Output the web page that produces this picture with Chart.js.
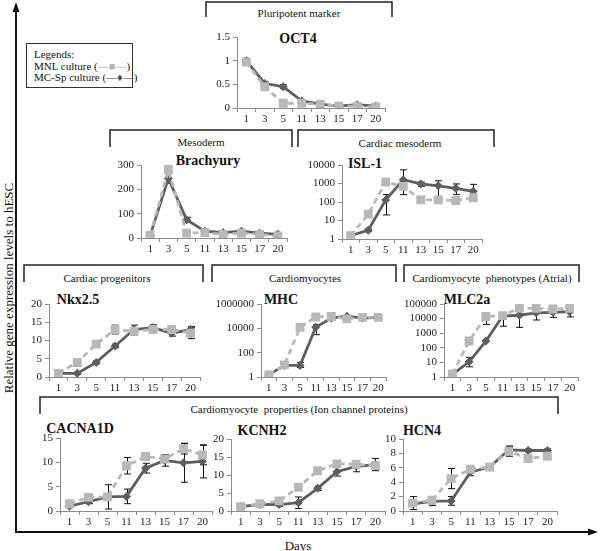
<!DOCTYPE html>
<html><head><meta charset="utf-8">
<script src="https://cdn.jsdelivr.net/npm/chart.js@4.4.1/dist/chart.umd.min.js"></script>
<style>
html,body{margin:0;padding:0;background:#fff;}
#wrap{position:relative;width:600px;height:551px;overflow:hidden;font-family:'Liberation Serif','DejaVu Serif',serif;color:#111;}
canvas.cv{position:absolute;}
.t{position:absolute;white-space:pre;transform:translate(-50%,-50%);font-size:var(--fs,11px);line-height:1;}
.title{font-weight:bold;font-size:var(--ft,14px);}
.big{font-size:var(--fb,13px);}
svg{position:absolute;left:0;top:0;}
#legend{position:absolute;left:26px;top:43px;width:107px;height:45px;border:1px solid #333;font-size:var(--fs,11px);line-height:11.5px;padding:5px 0 0 7px;box-sizing:border-box;white-space:nowrap;}
.g{color:#b5b5b5;} .d{color:#444;}
</style></head><body><div id="wrap">
<svg width="600" height="551">
 <g fill="none" stroke="#222" stroke-width="1.5">
  <path d="M206,17 V2 H392 V17"/>
  <path d="M110,147 V130 H292 V147"/>
  <path d="M298,147 V130 H494 V147"/>
  <path d="M24,282 V265 H203 V282"/>
  <path d="M212,282 V265 H396 V282"/>
  <path d="M404,282 V265 H579 V282"/>
  <path d="M40,414 V397 H558 V414"/>
 </g>
 <g stroke="#111" stroke-width="2" fill="#111">
  <line x1="16" y1="533" x2="16" y2="10"/>
  <polygon points="16,2 12.5,12 19.5,12" stroke="none"/>
  <line x1="15" y1="532" x2="590" y2="532"/>
  <polygon points="598,532 588,528.5 588,535.5" stroke="none"/>
 </g>
</svg>
<div id="legend">Legends:<br>MNL culture (<span class="g">---■---</span>)<br>MC-Sp culture (<span class="d">—♦—</span>)</div>
<div class="t" style="left:299px;top:13px;">Pluripotent marker</div>
<div class="t" style="left:201px;top:142px;">Mesoderm</div>
<div class="t" style="left:400px;top:143px;">Cardiac mesoderm</div>
<div class="t" style="left:107px;top:278px;">Cardiac progenitors</div>
<div class="t" style="left:305px;top:278px;">Cardiomyocytes</div>
<div class="t" style="left:492px;top:278px;">Cardiomyocyte  phenotypes (Atrial)</div>
<div class="t" style="left:299px;top:409px;">Cardiomyocyte  properties (Ion channel proteins)</div>
<div class="t big" style="left:298px;top:545px;">Days</div>
<div class="t big" style="left:8px;top:288px;transform:translate(-50%,-50%) rotate(-90deg);">Relative gene expression levels to hESC</div>
<div class="t title" style="left:298px;top:39px;">OCT4</div>
<div class="t title" style="left:208px;top:161px;">Brachyury</div>
<div class="t title" style="left:365px;top:164px;">ISL-1</div>
<div class="t title" style="left:78px;top:300px;">Nkx2.5</div>
<div class="t title" style="left:281px;top:300px;">MHC</div>
<div class="t title" style="left:467px;top:300px;">MLC2a</div>
<div class="t title" style="left:80px;top:429px;">CACNA1D</div>
<div class="t title" style="left:262px;top:431px;">KCNH2</div>
<div class="t title" style="left:422px;top:431px;">HCN4</div>
</div>
<script>
const days = ['1','3','5','11','13','15','17','20'];

const oct4Ticks = [0, 0.5, 1, 1.5];
const oct4Mnl = [0.97, 0.45, 0.10, 0.10, 0.08, 0.04, 0.04, 0.02];
const oct4Mc  = [1.00, 0.52, 0.45, 0.15, 0.08, 0.04, 0.07, 0.04];
const oct4MnlErr = [0.03, 0.03, 0.02, 0.02, 0.01, 0.01, 0.01, 0.01];
const oct4McErr  = [0.05, 0.03, 0.04, 0.02, 0.01, 0.01, 0.02, 0.01];

const brachTicks = [0, 100, 200, 300];
const brachMnl = [10, 280, 20, 22, 15, 20, 15, 8];
const brachMc  = [10, 245, 75, 28, 22, 28, 20, 15];
const brachMnlErr = [2, 15, 3, 3, 2, 2, 2, 2];
const brachMcErr  = [2, 20, 10, 5, 3, 4, 3, 3];

const islTicks = [1, 10, 100, 1000, 10000];
const islMnl = [1.5, 22, 1200, 700, 130, 130, 120, 170];
const islMc  = [1.5, 3, 130, 1600, 950, 750, 550, 380];
const islMnlErr = [null, [15, 30], [900, 1500], [500, 1000], null, null, null, [130, 230]];
const islMcErr  = [null, [2.5, 3.5], [20, 250], [250, 5500], [700, 1200], [200, 1400], [250, 950], [200, 900]];

const nkxTicks = [0, 5, 10, 15, 20];
const nkxMnl = [1, 4, 9, 13, 12.5, 13, 13, 12];
const nkxMc  = [1, 1, 4, 8.5, 13, 13.5, 12, 13];
const nkxMnlErr = [0.3, 1, 0.5, 1.2, 1, 0.8, 0.8, 1.5];
const nkxMcErr  = [0.2, 0.3, 0.4, 0.5, 1.2, 0.8, 0.8, 0.8];

const mhcTicks = [1, 100, 10000, 1000000];
const mhcMnl = [1.5, 10, 12000, 85000, 95000, 60000, 80000, 80000];
const mhcMc  = [1.5, 9, 9, 12000, 70000, 100000, 70000, 80000];
const mhcMnlErr = [null, null, null, null, null, null, null, null];
const mhcMcErr  = [null, null, [6, 16], [3000, 20000], null, null, null, null];

const mlcTicks = [1, 10, 100, 1000, 10000, 100000];
const mlcMnl = [1.6, 290, 14000, 16000, 53000, 50000, 45000, 50000];
const mlcMc  = [1.5, 11, 290, 15000, 17000, 25000, 27000, 30000];
const mlcMnlErr = [null, null, [4000, 20000], null, null, null, null, null];
const mlcMcErr  = [null, [5, 22], null, [3000, 20000], [2500, 20000], [8000, 30000], [12000, 35000], [13000, 40000]];

const cacTicks = [0, 5, 10, 15];
const cacMnl = [1.5, 2.8, 2.9, 9.3, 11.2, 10.7, 12.8, 11.5];
const cacMc  = [1.0, 1.9, 2.9, 3.0, 8.8, 10.4, 9.9, 10.2];
const cacMnlErr = [0.3, 0.5, 0.5, 1.7, 0.5, 0.5, 1.1, 2.0];
const cacMcErr  = [0.3, 0.4, 2.5, 1.5, 1.0, 1.2, 4.0, 3.4];

const kcnTicks = [0, 5, 10, 15, 20];
const kcnMnl = [1.2, 2.0, 2.8, 6.6, 11.2, 13.1, 13.0, 12.6];
const kcnMc  = [1.2, 1.8, 1.8, 2.3, 6.3, 10.9, 12.4, 12.9];
const kcnMnlErr = [0.3, 0.3, 0.3, 0.3, 0.3, 0.5, 0.5, 0.5];
const kcnMcErr  = [0.3, 0.5, 0.5, 1.6, 0.6, 1.2, 1.5, 1.7];

const hcnTicks = [0, 2, 4, 6, 8, 10];
const hcnMnl = [1.1, 1.5, 4.5, 5.8, 6.1, 8.3, 7.3, 7.6];
const hcnMc  = [1.0, 1.35, 1.4, 5.4, 6.1, 8.5, 8.4, 8.4];
const hcnMnlErr = [0.9, 0.3, 1.4, 0.5, 0.2, 0.7, 0.3, 0.3];
const hcnMcErr  = [0.3, 0.6, 0.6, 0.5, 0.2, 0.5, 0.2, 0.2];

const MNL_COLOR = '#b8b8b8';
const MC_COLOR = '#5e5e5e';

// pick a Times-like serif if one is installed, else DejaVu Serif at a smaller size
function hasFont(name) {
  const cx = document.createElement('canvas').getContext('2d');
  const s = 'abcdefghiMWmw0123456789';
  cx.font = `40px monospace`; const w0 = cx.measureText(s).width;
  cx.font = `40px '${name}', monospace`; const w1 = cx.measureText(s).width;
  return Math.abs(w1 - w0) > 0.5;
}
const timesLike = ['Liberation Serif', 'Tinos', 'Times New Roman', 'Nimbus Roman', 'Nimbus Roman No9 L', 'FreeSerif'].find(hasFont);
const FAMILY = timesLike ? `'${timesLike}', 'DejaVu Serif', serif` : `'DejaVu Serif', serif`;
const SCALE = timesLike ? 1 : 0.88;
const wrap = document.getElementById('wrap');
wrap.style.fontFamily = FAMILY;
wrap.style.setProperty('--fs', (11 * SCALE) + 'px');
wrap.style.setProperty('--ft', (14 * SCALE) + 'px');
wrap.style.setProperty('--fb', (13 * SCALE) + 'px');
const FONT = {family: FAMILY, size: Math.round(11 * SCALE * 10) / 10};

const errPlugin = {
  id: 'errbars',
  beforeDatasetsDraw(chart) {
    const ctx = chart.ctx, ys = chart.scales.y;
    ctx.save();
    ctx.strokeStyle = '#111';
    ctx.lineWidth = 1;
    chart.data.datasets.forEach((ds, di) => {
      const meta = chart.getDatasetMeta(di);
      (ds.errors || []).forEach((e, i) => {
        if (!e) return;
        const v = ds.data[i];
        let lo, hi;
        if (Array.isArray(e)) { lo = e[0]; hi = e[1]; } else { lo = v - e; hi = v + e; }
        lo = Math.max(lo, ys.min); hi = Math.min(hi, ys.max);
        const x = Math.round(meta.data[i].x) + 0.5;
        const y1 = ys.getPixelForValue(lo), y2 = ys.getPixelForValue(hi);
        ctx.beginPath();
        ctx.moveTo(x, y1); ctx.lineTo(x, y2);
        ctx.moveTo(x - 3.5, y1); ctx.lineTo(x + 3.5, y1);
        ctx.moveTo(x - 3.5, y2); ctx.lineTo(x + 3.5, y2);
        ctx.stroke();
      });
    });
    ctx.restore();
  }
};

function makeChart(p) {
  const YW = 46, XH = 19, PT = 10, PR = 6;
  const left = p.ax - YW, top = p.top - PT;
  const w = p.right - p.ax + YW + PR, h = p.bottom - p.top + PT + XH;
  const c = document.createElement('canvas');
  c.className = 'cv';
  c.width = w; c.height = h;
  c.style.left = left + 'px'; c.style.top = top + 'px';
  c.style.width = w + 'px'; c.style.height = h + 'px';
  wrap.appendChild(c);
  const tickVals = p.ticks;
  new Chart(c, {
    type: 'line',
    data: {
      labels: days,
      datasets: [
        {label: 'MNL culture', data: p.mnl, errors: p.mnlErr, borderColor: MNL_COLOR, backgroundColor: MNL_COLOR,
         borderWidth: 2.8, borderDash: [6, 4], pointStyle: 'rect', pointRadius: 6.3, pointBorderWidth: 0, tension: 0},
        {label: 'MC-Sp culture', data: p.mc, errors: p.mcErr, borderColor: MC_COLOR, backgroundColor: MC_COLOR,
         borderWidth: 2.8, pointStyle: 'rectRot', pointRadius: 4.5, pointBorderWidth: 0, tension: 0}
      ]
    },
    options: {
      responsive: false, animation: false, devicePixelRatio: 1,
      layout: {padding: {top: PT, right: PR, left: 0, bottom: 0}, autoPadding: false},
      plugins: {legend: {display: false}, tooltip: {enabled: false}},
      scales: {
        x: {
          type: 'category', offset: true,
          grid: {display: true, drawOnChartArea: false, tickLength: 4, color: '#8c8c8c', offset: true},
          border: {color: '#8c8c8c'},
          ticks: {font: FONT, color: '#222', padding: 1, maxRotation: 0, autoSkip: false},
          afterFit(s) { s.height = XH; }
        },
        y: {
          type: p.log ? 'logarithmic' : 'linear',
          min: tickVals[0], max: tickVals[tickVals.length - 1],
          grid: {display: true, drawOnChartArea: false, tickLength: 4, color: '#8c8c8c'},
          border: {color: '#8c8c8c'},
          ticks: {font: FONT, color: '#222', padding: 3, autoSkip: false, callback: v => String(v)},
          afterBuildTicks(s) { s.ticks = tickVals.map(v => ({value: v})); },
          afterFit(s) { s.width = YW; }
        }
      }
    },
    plugins: [errPlugin]
  });
}

makeChart({ax: 237, top: 37, bottom: 108, right: 385, ticks: oct4Ticks, mnl: oct4Mnl, mc: oct4Mc, mnlErr: oct4MnlErr, mcErr: oct4McErr});
makeChart({ax: 141, top: 165, bottom: 238, right: 287, ticks: brachTicks, mnl: brachMnl, mc: brachMc, mnlErr: brachMnlErr, mcErr: brachMcErr});
makeChart({ax: 342, top: 165, bottom: 239, right: 482, log: true, ticks: islTicks, mnl: islMnl, mc: islMc, mnlErr: islMnlErr, mcErr: islMcErr});
makeChart({ax: 49, top: 304, bottom: 377, right: 200, ticks: nkxTicks, mnl: nkxMnl, mc: nkxMc, mnlErr: nkxMnlErr, mcErr: nkxMcErr});
makeChart({ax: 261, top: 304, bottom: 377, right: 386, log: true, ticks: mhcTicks, mnl: mhcMnl, mc: mhcMc, mnlErr: mhcMnlErr, mcErr: mhcMcErr});
makeChart({ax: 444, top: 304, bottom: 377, right: 578, log: true, ticks: mlcTicks, mnl: mlcMnl, mc: mlcMc, mnlErr: mlcMnlErr, mcErr: mlcMcErr});
makeChart({ax: 60, top: 438, bottom: 511, right: 212, ticks: cacTicks, mnl: cacMnl, mc: cacMc, mnlErr: cacMnlErr, mcErr: cacMcErr});
makeChart({ax: 231, top: 439, bottom: 511, right: 385, ticks: kcnTicks, mnl: kcnMnl, mc: kcnMc, mnlErr: kcnMnlErr, mcErr: kcnMcErr});
makeChart({ax: 403, top: 439, bottom: 511, right: 557, ticks: hcnTicks, mnl: hcnMnl, mc: hcnMc, mnlErr: hcnMnlErr, mcErr: hcnMcErr});
</script>
</body></html>
